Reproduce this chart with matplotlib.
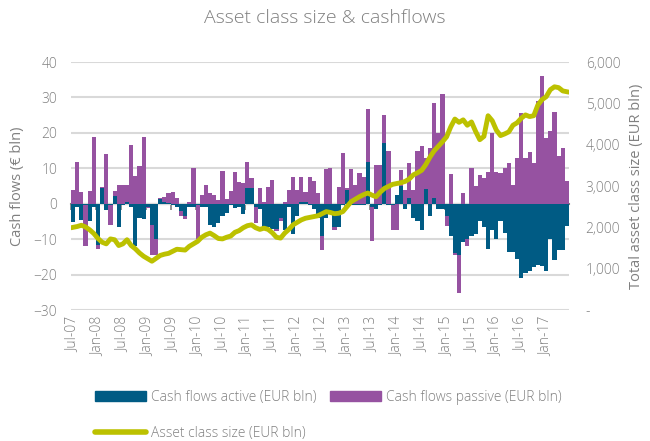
import matplotlib
matplotlib.use('Agg')
import matplotlib.pyplot as plt
import numpy as np
from matplotlib.patches import Patch
from matplotlib.lines import Line2D
from matplotlib.ticker import FuncFormatter

plt.rcParams['font.family'] = ['Open Sans', 'DejaVu Sans']
plt.rcParams['font.weight'] = 'light'

# months Jul-07 .. Jun-17
months = np.arange(120)
tick_labels = ['Jul-07', 'Jan-08', 'Jul-08', 'Jan-09', 'Jul-09', 'Jan-10', 'Jul-10',
               'Jan-11', 'Jul-11', 'Jan-12', 'Jul-12', 'Jan-13', 'Jul-13', 'Jan-14',
               'Jul-14', 'Jan-15', 'Jul-15', 'Jan-16', 'Jul-16', 'Jan-17']

# cash flows active (EUR bln)
active = [-5.2, -0.8, -4.7, -0.5, -5.0, -0.8, -11.6, 4.3, -1.8, -0.5, 2.3, -6.6,
          -0.5, 0.6, -1.0, -12.0, -4.0, -4.2, -0.8, -6.0, -10.0, 1.4, 0.5, 0.3,
          -0.5, -1.0, -2.0, -3.5, -1.0, -0.8, -0.5, -1.0, -1.0, -6.0, -6.5, -5.5,
          -3.5, -2.5, -0.5, -1.2, -0.8, -3.0, 4.4, 4.4, -1.0, -1.5, -6.5, -6.7,
          -7.0, -7.0, -4.0, -7.5, -1.0, -8.5, -3.5, 0.5, 0.5, -0.5, -1.5, -4.0,
          -9.0, -4.0, -3.0, -6.5, -6.6, -0.5, 4.0, -0.5, -0.5, -0.3, -0.5, 11.7,
          -1.0, -1.5, -0.5, 17.0, -0.5, -0.5, 2.5, 5.0, -1.5, 1.5, -4.0, -5.0,
          -7.5, 4.2, -3.5, 1.5, -1.5, -1.5, -3.6, -9.0, -14.0, -14.4, -10.8, -10.0,
          -9.0, -8.5, -5.0, -6.5, -12.8, -7.5, -10.0, -5.0, -8.3, -13.5, -13.5, -15.5,
          -21.0, -19.5, -19.0, -18.0, -17.3, -17.7, -19.0, -10.0, -15.8, -13.0, -13.0, -6.4]

# cash flows passive (EUR bln)
passive = [3.8, 11.7, 3.4, -11.3, 3.7, 18.9, -1.2, 0.5, 14.0, -5.6, 1.4, 5.4,
           5.4, 4.7, 16.5, 7.8, 10.7, 18.9, -0.5, -8.5, -4.5, 0.3, 1.5, 2.7,
           3.2, 1.6, -1.6, -0.8, 0.5, 10.0, -9.5, 2.5, 5.4, 3.0, 2.5, 1.0,
           9.3, 1.3, 3.5, 9.0, 6.0, 5.8, 7.4, 2.9, -4.5, 4.4, 0.5, 4.7,
           6.8, -0.8, -1.0, 0.5, 4.0, 7.5, 4.0, 7.1, 2.7, 7.5, 6.5, 3.0,
           -4.0, 9.7, 10.0, -0.8, 4.7, 14.3, 0.5, 9.7, 5.4, 8.8, 7.5, 14.9,
           -9.5, 11.0, 11.0, 8.0, 15.0, -7.0, -7.4, 4.6, 4.0, 10.0, 4.0, 15.0,
           16.4, 8.8, 15.8, 27.0, 20.0, 31.0, -2.8, 8.5, -0.5, -10.9, 3.0, -2.0,
           10.0, 5.0, 8.0, 7.3, 9.0, 20.0, 9.0, 8.7, 10.0, 11.5, 5.4, 13.0,
           25.7, 13.0, 14.5, 11.5, 29.0, 36.0, 18.6, 20.5, 26.0, 13.4, 15.8, 6.3]

# asset class size (EUR bln)
size = [2000, 2020, 2050, 2010, 1940, 1850, 1730, 1640, 1600, 1720, 1700, 1560,
        1600, 1700, 1560, 1480, 1380, 1300, 1240, 1180, 1250, 1320, 1350, 1370,
        1420, 1470, 1460, 1450, 1540, 1600, 1660, 1760, 1820, 1860, 1800, 1730,
        1720, 1760, 1790, 1880, 1920, 1990, 2040, 2060, 1990, 1950, 1980, 1950,
        1870, 1760, 1740, 1860, 1950, 2060, 2120, 2180, 2220, 2240, 2260, 2280,
        2330, 2380, 2360, 2330, 2340, 2380, 2500, 2620, 2680, 2740, 2790, 2830,
        2780, 2740, 2850, 2940, 2990, 3040, 3060, 3080, 3110, 3170, 3270, 3320,
        3380, 3520, 3700, 3850, 3960, 4070, 4190, 4430, 4620, 4540, 4600, 4470,
        4550, 4320, 4120, 4200, 4700, 4580, 4350, 4220, 4260, 4310, 4470, 4530,
        4640, 4720, 4680, 4700, 4960, 5090, 5160, 5330, 5400, 5380, 5300, 5280]

c_active = '#005B84'
c_passive = '#9652A1'
c_line = '#BCC100'
c_text = '#808080'

active = np.array(active)
passive = np.array(passive)
# stack like Excel: positives on positives, negatives on negatives
bottom = np.where(np.sign(passive) == np.sign(active), active, 0)

fig = plt.figure(figsize=(6.5, 4.41), dpi=100)
ax = fig.add_axes([71 / 650, 1 - 310 / 441, 498 / 650, 248 / 441])

ax.bar(months, active, width=1.0, color=c_active, zorder=2)
ax.bar(months, passive, bottom=bottom, width=1.0, color=c_passive, zorder=2)

ax.set_xlim(-0.5, 119.5)
ax.set_ylim(-30, 40)
ax.set_yticks(range(-30, 41, 10))
ax.yaxis.grid(True, color='#D9D9D9', lw=1.5, zorder=0)
ax.set_axisbelow(True)
for s in ax.spines.values():
    s.set_visible(False)
ax.tick_params(axis='y', length=0, colors=c_text, labelsize=10, pad=10)
ax.set_xticks(months[::6])
ax.set_xticklabels(tick_labels, rotation=90)
ax.tick_params(axis='x', length=0, colors=c_text, labelsize=10, pad=5)
ax.set_ylabel('Cash flows (€ bln)', color=c_text, fontsize=10.5, labelpad=6)

# zero line with small ticks between categories
zero = ax.secondary_xaxis(30 / 70)
zero.set_xticks(months[::6] - 0.5)
zero.tick_params(axis='x', direction='out', length=4, width=1.2, colors='#7F7F7F',
                 labelbottom=False, labeltop=False)
zero.spines['bottom'].set_color('#7F7F7F')
zero.spines['bottom'].set_linewidth(1.5)
zero.spines['top'].set_visible(False)

ax2 = ax.twinx()
ax2.plot(months, size, color=c_line, lw=3.5, solid_joinstyle='round', zorder=5)
ax2.set_ylim(0, 6000)
ax2.set_yticks(range(0, 6001, 1000))
ax2.yaxis.set_major_formatter(FuncFormatter(lambda v, p: '-' if v == 0 else f'{v:,.0f}'))
for s in ax2.spines.values():
    s.set_visible(False)
ax2.tick_params(axis='y', length=0, colors=c_text, labelsize=10, pad=12)
ax2.set_ylabel('Total asset class size (EUR bln)', color=c_text, fontsize=10.5, labelpad=6)

fig.text(0.5, 1 - 18 / 441, 'Asset class size & cashflows', ha='center', va='center',
         color=c_text, fontsize=14)

handles = [Patch(color=c_active, label='Cash flows active (EUR bln)'),
           Line2D([0], [0], color=c_line, lw=4, solid_capstyle='round',
                  label='Asset class size (EUR bln)'),
           Patch(color=c_passive, label='Cash flows passive (EUR bln)')]
leg = fig.legend(handles=handles, loc='upper left', bbox_to_anchor=(95 / 650, 1 - 390 / 441),
                 ncol=2, frameon=False, fontsize=10, handlelength=3.7, handleheight=0.7,
                 handletextpad=0.3, columnspacing=1.0, labelspacing=1.5, borderpad=0,
                 borderaxespad=0)
for t in leg.get_texts():
    t.set_color(c_text)

fig.savefig('out.png', dpi=100)
